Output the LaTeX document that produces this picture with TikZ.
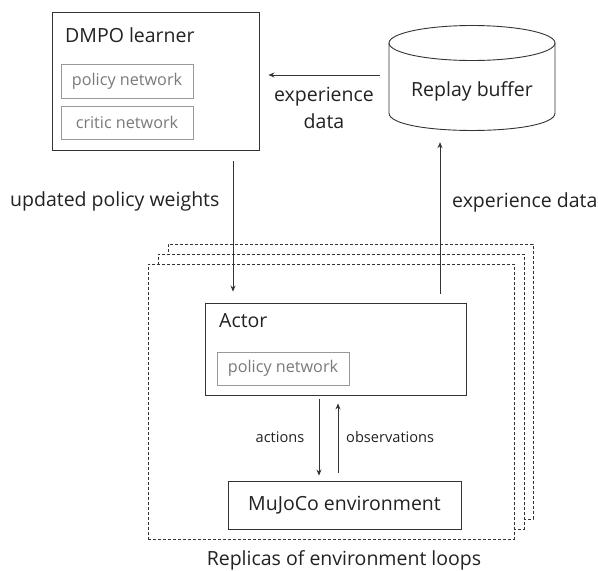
\documentclass[tikz,border=0pt]{standalone}
\usepackage{fontspec}
\setmainfont{Open Sans}
\usetikzlibrary{arrows.meta}
\definecolor{linec}{HTML}{333333}
\definecolor{graybox}{HTML}{999999}
\definecolor{graytxt}{HTML}{7A7A7A}
\definecolor{txt}{HTML}{222222}
\tikzset{
  bigbox/.style={draw=linec, line width=0.9pt, fill=white, inner sep=0pt},
  netbox/.style={draw=graybox, line width=0.9pt, text=graytxt, inner sep=0pt, font=\fontsize{16.2}{19}\selectfont},
  bigtxt/.style={text=txt, inner sep=0pt, font=\fontsize{19.5}{23}\selectfont},
  smalltxt/.style={text=txt, inner sep=0pt, font=\fontsize{14.6}{17}\selectfont},
  arr/.style={draw=linec, line width=0.8pt, -{Stealth[length=6pt,width=5pt]}},
  replica/.style={draw=linec, line width=0.7pt, dash pattern=on 3pt off 2pt, fill=white},
}
\begin{document}
\begin{tikzpicture}[x=1pt,y=-1pt]
\useasboundingbox (0,0) rectangle (598,571);
% learner
\node[bigbox, minimum width=207, minimum height=138] (learner) at (155.5,81) {};
\node[bigtxt, anchor=base west] (learnertxt) at (65,42) {DMPO learner};
\node[netbox, minimum width=132, minimum height=34] (lpol) at (127,81) {policy network};
\node[netbox, minimum width=132, minimum height=33] (lcrit) at (127,122.5) {critic network};
% replay buffer (cylinder)
\node[bigtxt, minimum width=166, minimum height=105.5] (rb) at (472,77.75) {};
\draw[linec, line width=0.9pt, fill=white] (389,43) -- (389,113) .. controls (389,136.3) and (555,136.3) .. (555,113) -- (555,43);
\draw[linec, line width=0.9pt] (472,43) ellipse [x radius=83, y radius=17.5];
\node[bigtxt, anchor=base] (rbtxt) at (472,96) {Replay buffer};
% replicas
\node[replica, minimum width=365, minimum height=275, inner sep=0pt] (rep3) at (350.5,381.5) {};
\node[replica, minimum width=366, minimum height=275, inner sep=0pt] (rep2) at (341,391.5) {};
\node[replica, minimum width=366, minimum height=275, inner sep=0pt] (rep1) at (331,401.5) {};
% actor
\node[bigbox, minimum width=261, minimum height=92] (actor) at (335.5,349) {};
\node[bigtxt, anchor=base west] (actortxt) at (219,327) {Actor};
\node[netbox, minimum width=132, minimum height=33] (apol) at (283,368.5) {policy network};
% mujoco
\node[bigbox, minimum width=233, minimum height=48, text=txt, font=\fontsize{19.5}{23}\selectfont] (env) at (344.5,505) {MuJoCo environment};
% labels
\node[bigtxt, anchor=base] (exp1a) at (324,101) {experience};
\node[bigtxt, anchor=base] (exp1b) at (324,128) {data};
\node[bigtxt, anchor=base west] (upd) at (10,206) {updated policy weights};
\node[bigtxt, anchor=base west] (exp2) at (452,207) {experience data};
\node[smalltxt, anchor=base] (act) at (280,442) {actions};
\node[smalltxt, anchor=base west] (obs) at (346,442) {observations};
\node[bigtxt, anchor=base] (replbl) at (344,565) {Replicas of environment loops};
% connectors
\coordinate (yexp) at (0,75);
\coordinate (xdown) at (233,0);
\coordinate (xup) at (440,0);
\coordinate (xact) at (319,0);
\coordinate (xobs) at (338,0);
\draw[arr, shorten <=9pt, shorten >=9pt] (rb.west |- yexp) -- (learner.east |- yexp);
\draw[arr, shorten <=11pt, shorten >=11pt] (learner.south -| xdown) -- (actor.north -| xdown);
\draw[arr, shorten <=9pt, shorten >=11.5pt] (actor.north -| xup) -- (rb.south -| xup);
\draw[arr, shorten <=4pt, shorten >=5pt] (actor.south -| xact) -- (env.north -| xact);
\draw[arr, shorten <=8pt, shorten >=8pt] (env.north -| xobs) -- (actor.south -| xobs);
\end{tikzpicture}
\end{document}
